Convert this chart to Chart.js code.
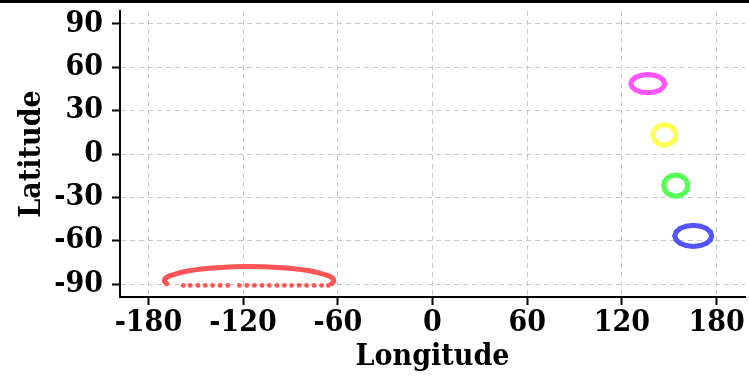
<!DOCTYPE html>
<html>
<head>
<meta charset="utf-8">
<script src="https://cdn.jsdelivr.net/npm/chart.js@4"></script>
<style>
    html, body { margin: 0; padding: 0; background: #fff; }
    #wrap { width: 749px; height: 379px; }
</style>
</head>
<body>
<div id="wrap"><canvas id="tracks"></canvas></div>
<script>
// tick values
const lonTicks = [-180, -120, -60, 0, 60, 120, 180]
const latTicks = [-90, -60, -30, 0, 30, 60, 90]

// red loop near the south pole (upper arc + sparse points along the bottom)
const redArcLon = [-64.0, -62.5, -63.5, -66.6, -78.2, -95.6, -116.2, -136.8, -154.2, -165.8, -168.9, -169.9, -168.4]
const redArcLat = [-90, -87.7, -85.8, -84.0, -80.8, -78.7, -77.9, -78.7, -80.8, -84.0, -85.8, -87.7, -90]
const redDotLon = [-158, -153.5, -148.6, -144.0, -139.4, -134.6, -129.7, -122.4, -117.7, -112.9, -108.0, -103.4, -98.5, -93.9, -89.3, -84.5, -79.8, -75.0, -70.3, -66]
const redDotLat = [-91, -91, -91, -91, -91, -91, -91, -91, -91, -91, -91, -91, -91, -91, -91, -91, -91, -91, -91, -91]

// small loops on the right
const magentaLon = [147.1, 146.3, 144.0, 140.5, 136.4, 132.3, 128.8, 126.5, 125.7, 126.5, 128.8, 132.3, 136.4, 140.5, 144.0, 146.3]
const magentaLat = [48.7, 51.1, 53.2, 54.5, 55.0, 54.5, 53.2, 51.1, 48.7, 46.3, 44.2, 42.9, 42.4, 42.9, 44.2, 46.3]

const yellowLon = [154.2, 153.6, 152.1, 149.7, 146.9, 144.1, 141.7, 140.2, 139.6, 140.2, 141.7, 144.1, 146.9, 149.7, 152.1, 153.6]
const yellowLat = [13.2, 15.9, 18.1, 19.7, 20.2, 19.7, 18.1, 15.9, 13.2, 10.5, 8.3, 6.7, 6.2, 6.7, 8.3, 10.5]

const greenLon = [161.7, 161.1, 159.5, 157.0, 154.1, 151.2, 148.7, 147.1, 146.5, 147.1, 148.7, 151.2, 154.1, 157.0, 159.5, 161.1]
const greenLat = [-21.9, -19.1, -16.7, -15.2, -14.6, -15.2, -16.7, -19.1, -21.9, -24.7, -27.1, -28.6, -29.2, -28.6, -27.1, -24.7]

const blueLon = [176.9, 176.0, 173.5, 169.7, 165.2, 160.7, 156.9, 154.4, 153.5, 154.4, 156.9, 160.7, 165.2, 169.7, 173.5, 176.0]
const blueLat = [-56.7, -53.9, -51.5, -50.0, -49.4, -50.0, -51.5, -53.9, -56.7, -59.5, -61.9, -63.4, -64.0, -63.4, -61.9, -59.5]

const toPoints = (lon, lat) => lon.map((x, i) => ({ x: x, y: lat[i] }))
// repeat the first point so the loop closes
const closeLoop = (lon, lat) => toPoints(lon.concat(lon[0]), lat.concat(lat[0]))

function loopDataset(points, color, tension = 0) {
    return {
        data: points,
        showLine: true,
        borderColor: color,
        backgroundColor: color,
        borderWidth: 5,
        pointRadius: 2.4,
        pointBorderWidth: 0,
        tension: tension
    }
}

const serif = '"DejaVu Serif Condensed", "DejaVu Serif", serif'
const tickFont = { family: serif, weight: 'bold', size: 30 }
const titleFont = { family: serif, weight: 'bold', size: 30 }

// black rule across the top of the picture
const topRule = {
    id: 'topRule',
    afterDraw(chart) {
        const ctx = chart.ctx
        ctx.save()
        ctx.fillStyle = '#000'
        ctx.fillRect(0, 0, chart.width, 3)
        ctx.restore()
    }
}

function axisOptions(min, max, ticks, title, titlePadding, tickPadding, size) {
    return {
        type: 'linear',
        min: min,
        max: max,
        afterBuildTicks: axis => { axis.ticks = ticks.map(v => ({ value: v })) },
        afterFit: size,
        ticks: {
            color: '#000',
            font: tickFont,
            padding: tickPadding,
            maxRotation: 0,
            callback: v => String(v)
        },
        grid: {
            color: '#c8c8c8',
            lineWidth: 1,
            drawTicks: true,
            tickLength: 8,
            tickColor: '#000',
            tickWidth: 2,
            tickBorderDash: []
        },
        border: { color: '#000', width: 2, dash: [5, 4] },
        title: {
            display: true,
            text: title,
            color: '#000',
            font: titleFont,
            padding: titlePadding
        }
    }
}

new Chart(document.getElementById('tracks'), {
    type: 'scatter',
    data: {
        datasets: [
            loopDataset(toPoints(redArcLon, redArcLat), 'rgb(255,85,85)', 0.4),
            { data: toPoints(redDotLon, redDotLat), backgroundColor: 'rgb(255,85,85)', pointRadius: 2.4, pointBorderWidth: 0 },
            loopDataset(closeLoop(magentaLon, magentaLat), 'rgb(255,85,255)'),
            loopDataset(closeLoop(yellowLon, yellowLat), 'rgb(255,255,85)'),
            loopDataset(closeLoop(greenLon, greenLat), 'rgb(85,255,85)'),
            loopDataset(closeLoop(blueLon, blueLat), 'rgb(85,85,255)')
        ]
    },
    options: {
        responsive: true,
        maintainAspectRatio: false,
        animation: false,
        layout: { padding: { top: 11, right: 3, left: 0, bottom: 0 } },
        plugins: { legend: { display: false }, tooltip: { enabled: false } },
        scales: {
            x: axisOptions(-198, 198, lonTicks, 'Longitude', { bottom: 4 }, 0, s => {
                s.height = 82
                s.paddingLeft = 0
                s.paddingRight = 0
            }),
            y: axisOptions(-99, 99, latTicks, 'Latitude', { top: 14 }, 9, s => {
                s.width = 120
                s.paddingTop = 0
                s.paddingBottom = 0
            })
        }
    },
    plugins: [topRule]
});
</script>
</body>
</html>
